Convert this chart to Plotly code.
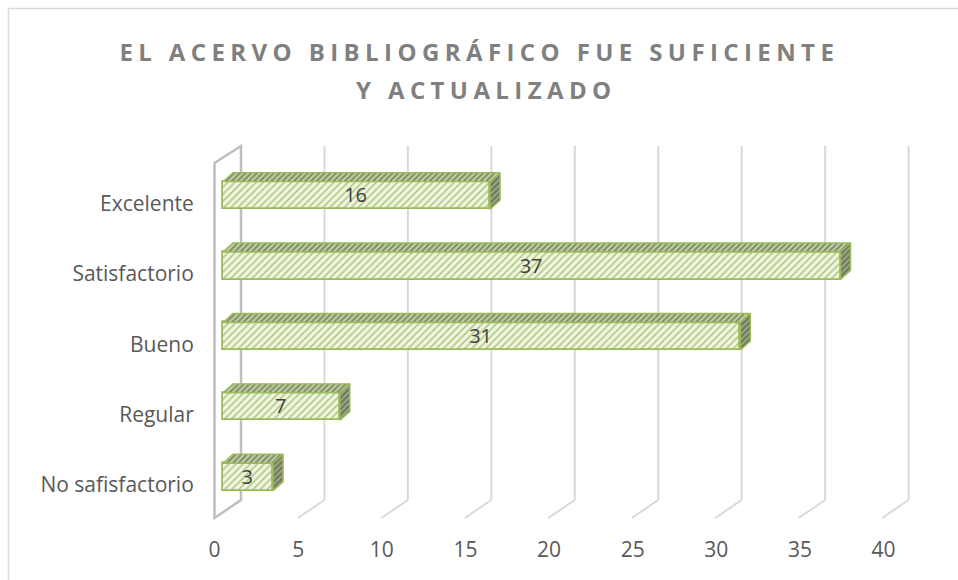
import plotly.graph_objects as go

# ---- data ---------------------------------------------------------------
categories = ["No safisfactorio", "Regular", "Bueno", "Satisfactorio", "Excelente"]
values = [3, 7, 31, 37, 16]
x_ticks = [0, 5, 10, 15, 20, 25, 30, 35, 40]
title_lines = ["EL ACERVO BIBLIOGRÁFICO FUE SUFICIENTE", "Y ACTUALIZADO"]

# ---- canvas / geometry helpers -----------------------------------------
W, H = 958, 580


def fx(px):
    return px / W


def fy(py):
    return 1 - py / H


FRONT_X0, FRONT_X40 = 223.0, 890.6      # bar front plane (0 and 40)
FLOOR_X0, FLOOR_X40 = 214.5, 883.5      # front edge of the floor (tick labels)
BACK_SHIFT = 18                          # back wall offset vs. bar plane (px)
FLOOR_SHIFT = -8.5                       # floor front offset vs. bar plane (px)
SLOT = 70.4                              # category slot height (px)
Y_BOT = 512.2                            # lower edge of the first slot (px)
LABEL_DROP = 8                           # category labels sit a bit lower
BAR_W = 0.39
DEPTH_X, DEPTH_Y = 10, 9                 # bar depth (px)

ppu = (FRONT_X40 - FRONT_X0) / 40        # pixels per unit on the value axis
dxu = DEPTH_X / ppu
dyu = DEPTH_Y / SLOT
pos = list(range(len(categories)))
half = BAR_W / 2

# the bar axes span the whole canvas so that the 3-D decoration is never clipped
x_range = [-FRONT_X0 / ppu, (W - FRONT_X0) / ppu]
y_range = [(Y_BOT - H) / SLOT - 0.5, Y_BOT / SLOT - 0.5]

GREEN = "#9bbb59"

fig = go.Figure()

# front faces of the bars
fig.add_trace(go.Bar(
    x=values, y=pos, orientation="h", width=BAR_W,
    marker=dict(
        color="#e6efd3",
        line=dict(color=GREEN, width=1.8),
        pattern=dict(shape="/", fgcolor="#b0c97c", bgcolor="#eff5e2",
                     size=5, solidity=0.33),
    ),
    text=[str(v) for v in values], textposition="inside",
    insidetextanchor="middle", textangle=0, constraintext="none",
    textfont=dict(family="Open Sans", size=20, color="#404040"),
    hoverinfo="skip", showlegend=False,
))

# top faces
tx, ty = [], []
for p, v in zip(pos, values):
    tx += [0, v, v + dxu, dxu, 0, None]
    ty += [p + half, p + half, p + half + dyu, p + half + dyu, p + half, None]
fig.add_trace(go.Scatter(
    x=tx, y=ty, mode="lines", fill="toself",
    line=dict(color=GREEN, width=1.4),
    fillcolor="#b7c98f",
    fillpattern=dict(shape="/", fgcolor="#7f8a6c", bgcolor="#c3d49f",
                     size=4, solidity=0.5),
    hoverinfo="skip", showlegend=False,
))

# side faces
sx, sy = [], []
for p, v in zip(pos, values):
    sx += [v, v, v + dxu, v + dxu, v, None]
    sy += [p + half, p - half, p - half + dyu, p + half + dyu, p + half, None]
fig.add_trace(go.Scatter(
    x=sx, y=sy, mode="lines", fill="toself",
    line=dict(color=GREEN, width=1.4),
    fillcolor="#7d8768",
    fillpattern=dict(shape="/", fgcolor="#a3ad8c", bgcolor="#6f795c",
                     size=4, solidity=0.4),
    hoverinfo="skip", showlegend=False,
))

# carrier for the label axes
fig.add_trace(go.Scatter(x=[None], y=[None], xaxis="x2", yaxis="y2",
                         hoverinfo="skip", showlegend=False))

# ---- walls, grid and frame ---------------------------------------------
shapes = []
grid_top, grid_bot, floor_front = fy(146), fy(500), fy(518)
for v in x_ticks:
    shapes.append(dict(type="line", xref="x", xsizemode="pixel", xanchor=v,
                       x0=BACK_SHIFT, x1=BACK_SHIFT, yref="paper",
                       y0=grid_bot, y1=grid_top, layer="below",
                       line=dict(color="#d9d9d9", width=2)))
    shapes.append(dict(type="line", xref="x", xsizemode="pixel", xanchor=v,
                       x0=BACK_SHIFT, x1=FLOOR_SHIFT, yref="paper",
                       y0=grid_bot, y1=floor_front, layer="below",
                       line=dict(color="#d9d9d9", width=2)))
# left side wall
shapes.append(dict(
    type="path", xref="x", xsizemode="pixel", xanchor=0, yref="paper",
    path=(f"M {FLOOR_SHIFT},{fy(163)} L {FLOOR_SHIFT},{fy(518)} "
          f"L {BACK_SHIFT},{fy(500)} L {BACK_SHIFT},{fy(146)} Z"),
    line=dict(color="#bfbfbf", width=2.5), layer="below"))
# chart frame
shapes.append(dict(type="rect", xref="paper", yref="paper",
                   x0=fx(8.5), y0=fy(8.5), x1=1.05, y1=-0.05,
                   line=dict(color="#d9d9d9", width=1.5)))

# ---- title --------------------------------------------------------------
title_font = dict(family="Open Sans", size=24, color="#808080", weight="bold")
annotations = [
    dict(text=title_lines[0], x=fx(479), y=fy(52), xref="paper", yref="paper",
         showarrow=False, xanchor="center", yanchor="middle", font=title_font),
    dict(text=title_lines[1], x=fx(486), y=fy(90), xref="paper", yref="paper",
         showarrow=False, xanchor="center", yanchor="middle", font=title_font),
]

tick_font = dict(family="Open Sans", size=21, color="#595959")
y_dom_lbl = [fy(Y_BOT + LABEL_DROP), fy(Y_BOT - SLOT * len(categories) + LABEL_DROP)]

fig.update_layout(
    template="none",
    width=W, height=H, autosize=False,
    margin=dict(l=0, r=0, t=0, b=0, pad=0, autoexpand=False),
    paper_bgcolor="white", plot_bgcolor="rgba(0,0,0,0)",
    bargap=0, showlegend=False,
    shapes=shapes, annotations=annotations,
    xaxis=dict(domain=[0, 1], range=x_range, automargin=False,
               showgrid=False, zeroline=False, showline=False,
               showticklabels=False, ticks="", fixedrange=True),
    yaxis=dict(domain=[0, 1], range=y_range, automargin=False,
               showgrid=False, zeroline=False, showline=False,
               showticklabels=False, ticks="", fixedrange=True),
    xaxis2=dict(domain=[fx(FLOOR_X0), fx(FLOOR_X40)], range=[0, 40],
                anchor="free", position=floor_front, automargin=False,
                tickmode="array", tickvals=x_ticks,
                ticktext=[str(t) for t in x_ticks],
                ticks="outside", ticklen=13, tickcolor="rgba(0,0,0,0)",
                showgrid=False, zeroline=False, showline=False,
                tickfont=tick_font, fixedrange=True),
    yaxis2=dict(domain=y_dom_lbl, range=[-0.5, len(categories) - 0.5],
                anchor="free", position=fx(215), side="left", automargin=False,
                tickmode="array", tickvals=pos, ticktext=categories,
                ticks="outside", ticklen=17, tickcolor="rgba(0,0,0,0)",
                showgrid=False, zeroline=False, showline=False,
                tickfont=tick_font, fixedrange=True),
)

# spaced lettering of the title
letter_spacing = """
document.querySelectorAll('.annotation-text').forEach(function (t) {
  t.style.letterSpacing = '5.4px';
});
"""

fig.write_html("out.html", post_script=letter_spacing,
               config={"displayModeBar": False})
